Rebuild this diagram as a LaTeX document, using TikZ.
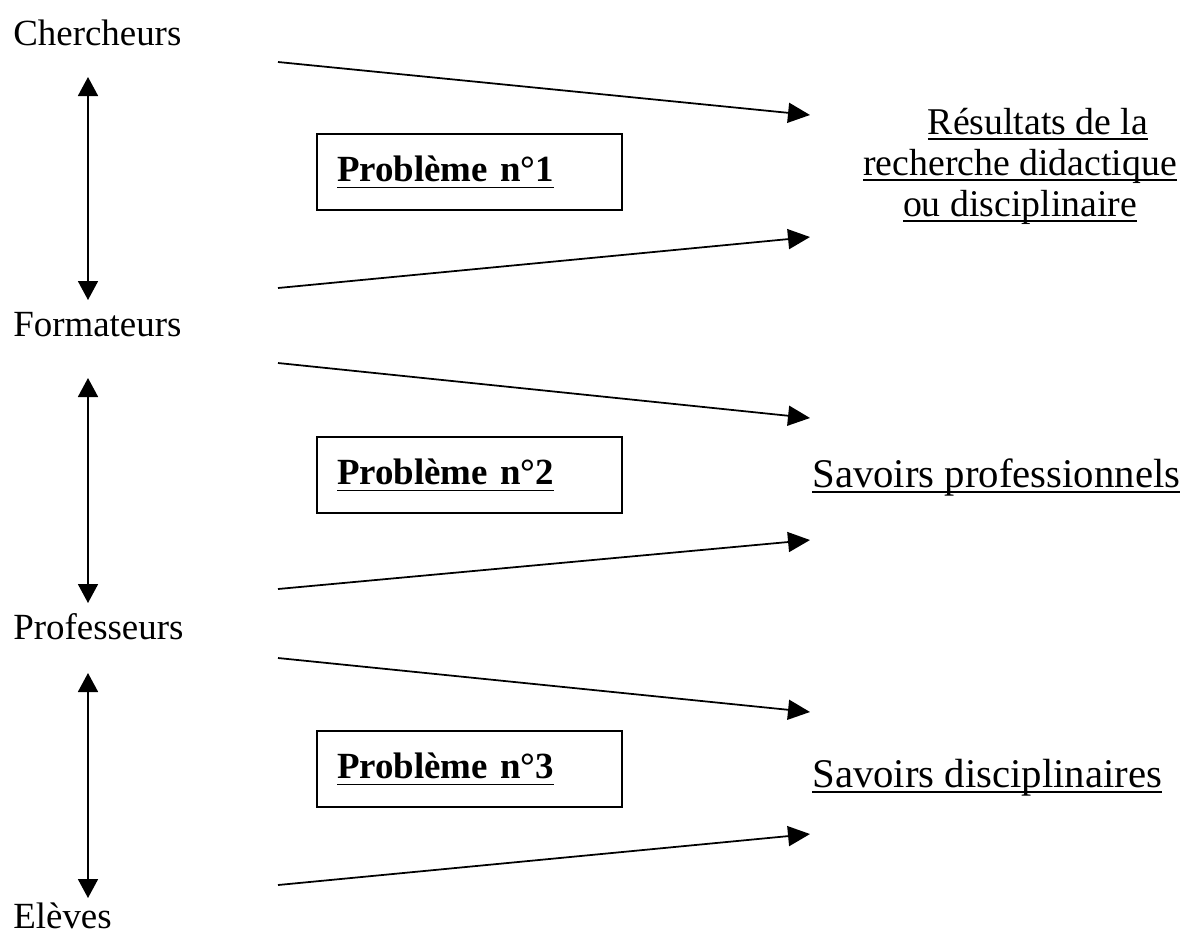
\documentclass[tikz,border=0pt]{standalone}
\usepackage{fontspec}
\setmainfont{Liberation Serif}
\usetikzlibrary{arrows.meta}

\newsavebox{\soulbox}
\newcommand{\souligne}[2][3.3pt]{\sbox{\soulbox}{#2}\rlap{\rule[-#1]{\wd\soulbox}{1pt}}\usebox{\soulbox}}

\tikzset{
  acteur/.style={anchor=base west,inner sep=0pt,font=\fontsize{21}{25}\selectfont},
  savoir/.style={anchor=base west,inner sep=0pt,font=\fontsize{23.2}{27}\selectfont},
  pbox/.style={draw,line width=0.8pt,minimum width=6.1cm,minimum height=1.52cm,
    text width=5.3cm,inner xsep=0.4cm,align=left,font=\fontsize{21}{25}\selectfont\bfseries},
  fleche/.style={line width=1pt,-{Triangle[length=0.44cm,width=0.4cm]}},
  dfleche/.style={line width=1pt,{Triangle[length=0.38cm,width=0.4cm]}-{Triangle[length=0.38cm,width=0.4cm]}}
}

\begin{document}
\begin{tikzpicture}[x=0.02cm,y=-0.02cm]
  \useasboundingbox (0,0) rectangle (1182,934);
  % acteurs
  \node[acteur] (cherch) at (13,45) {Chercheurs};
  \node[acteur] (format) at (13,336) {Formateurs};
  \node[acteur] (prof) at (13,639) {Professeurs};
  \node[acteur] (eleves) at (13,928) {Elèves};
  \coordinate (h1) at (88,77);  \coordinate (b1) at (88,300);
  \coordinate (h2) at (88,378); \coordinate (b2) at (88,603);
  \coordinate (h3) at (88,673); \coordinate (b3) at (88,898);
  \draw[dfleche] (h1) -- (b1);
  \draw[dfleche] (h2) -- (b2);
  \draw[dfleche] (h3) -- (b3);
  % problemes
  \node[pbox] (pb1) at (469.5,172) {\souligne[4pt]{Problème n°1}};
  \node[pbox] (pb2) at (469.5,475) {\souligne[4pt]{Problème n°2}};
  \node[pbox] (pb3) at (469.5,769) {\souligne[4pt]{Problème n°3}};
  % savoirs
  \node[align=center,inner sep=0pt,font=\fontsize{21.5}{23.3}\selectfont] (resultats) at (1020,166)
    {\hspace*{0.72cm}\souligne{Résultats de la}\\ \souligne{recherche didactique}\\ \souligne{ou disciplinaire}};
  \node[savoir] (savpro) at (812,487) {\souligne{Savoirs professionnels}};
  \node[savoir] (savdis) at (812,787) {\souligne{Savoirs disciplinaires}};
  % fleches
  \coordinate (d1) at (278,62);  \coordinate (a1) at (810,115);
  \coordinate (d2) at (278,288); \coordinate (a2) at (810,237);
  \coordinate (d3) at (278,363); \coordinate (a3) at (810,418);
  \coordinate (d4) at (278,589); \coordinate (a4) at (810,540);
  \coordinate (d5) at (278,658); \coordinate (a5) at (810,712);
  \coordinate (d6) at (278,885); \coordinate (a6) at (810,834);
  \draw[fleche] (d1) -- (a1);
  \draw[fleche] (d2) -- (a2);
  \draw[fleche] (d3) -- (a3);
  \draw[fleche] (d4) -- (a4);
  \draw[fleche] (d5) -- (a5);
  \draw[fleche] (d6) -- (a6);
\end{tikzpicture}
\end{document}
